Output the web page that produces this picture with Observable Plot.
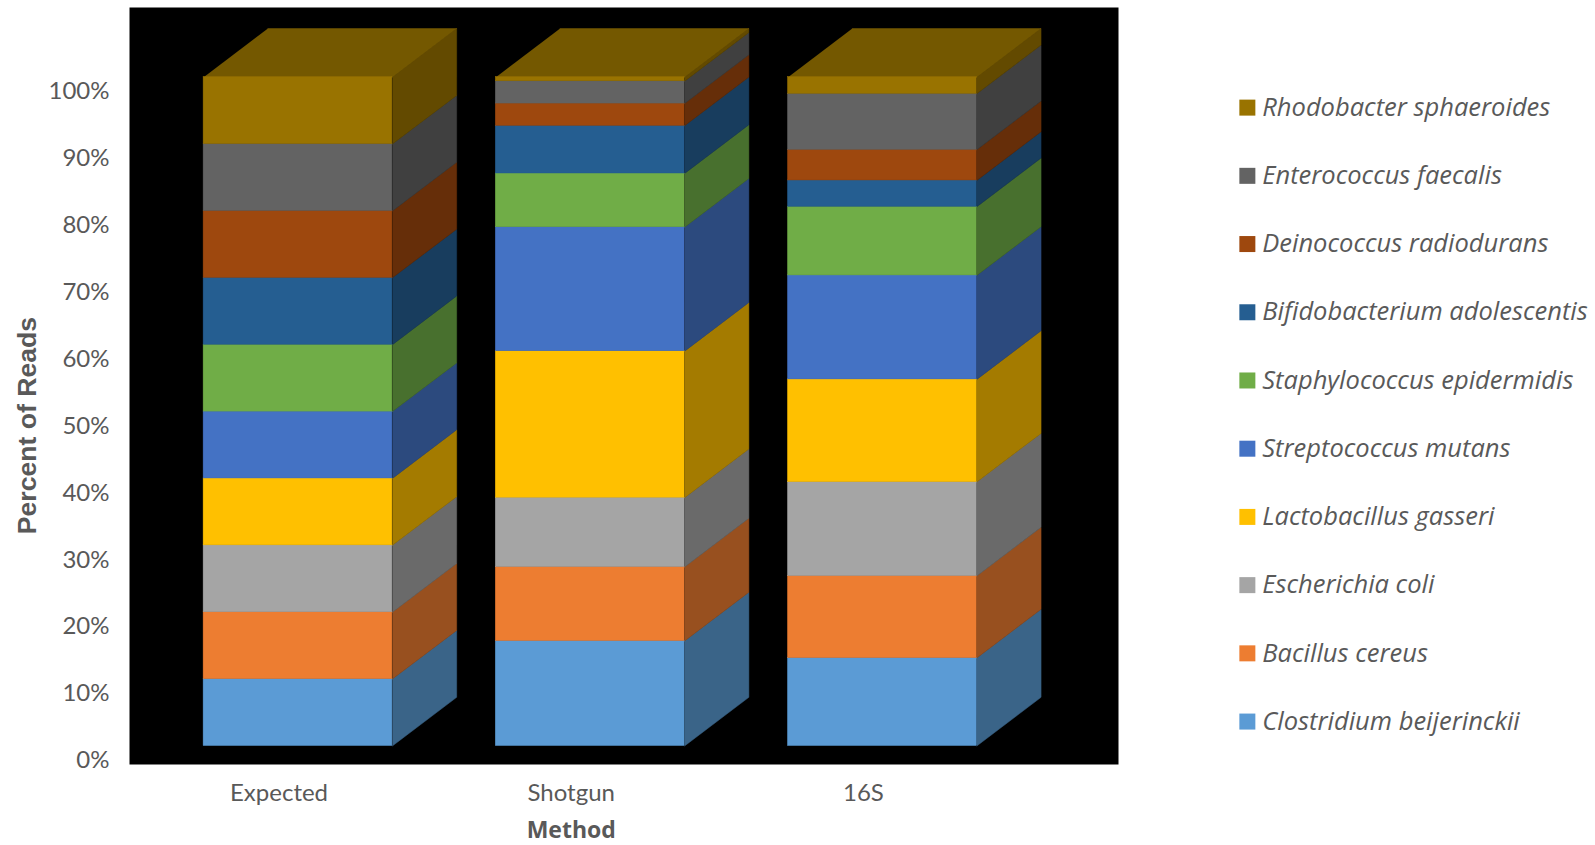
<!DOCTYPE html>
<html>
<head>
<meta charset="utf-8">
<title>Percent of Reads by Method</title>
<style>
  html, body { margin: 0; padding: 0; background: #fff; }
  svg { display: block; }
</style>
<script src="https://cdn.jsdelivr.net/npm/d3@7"></script>
<script src="https://cdn.jsdelivr.net/npm/@observablehq/plot@0.6"></script>
</head>
<body>
<div id="chart"></div>
<script>
// Community members, bottom of the stack first
const species = [
  "Clostridium beijerinckii", "Bacillus cereus", "Escherichia coli",
  "Lactobacillus gasseri", "Streptococcus mutans", "Staphylococcus epidermidis",
  "Bifidobacterium adolescentis", "Deinococcus radiodurans",
  "Enterococcus faecalis", "Rhodobacter sphaeroides"
];
const methods = ["Expected", "Shotgun", "16S"];

// Percent of reads per species for each method
const expected = [10, 10, 10, 10, 10, 10, 10, 10, 10, 10];
const shotgun = [15.7, 11.06, 10.37, 21.9, 18.54, 8.03, 7.13, 3.33, 3.33, 0.61];
const sixteenS = [13.15, 12.26, 14.05, 15.35, 15.55, 10.27, 3.93, 4.59, 8.37, 2.48];
const percentages = [expected, shotgun, sixteenS];

// Lit front faces and shaded side faces
const frontColors = ["#5b9bd5", "#ed7d31", "#a5a5a5", "#ffc000", "#4472c4", "#70ad47", "#255e91", "#9e480e", "#636363", "#997300"];
const sideColors = ["#3a6488", "#98501f", "#6a6a6a", "#a47b00", "#2c4a7e", "#48702e", "#183d5e", "#662e09", "#404040", "#634a00"];
const topColor = "#745800";

// Bar geometry in scale units: category spacing is 1, percent on y
const halfWidth = 0.323;
const depthX = 0.22;
const depthY = 7.28;

// Stack each method into front rectangles and side polygons
const fronts = [];
const faces = [];
percentages.forEach((values, m) => {
  let base = 0;
  const left = m - halfWidth;
  const right = m + halfWidth;
  values.forEach((value, s) => {
    const top = base + value;
    fronts.push({x1: left, x2: right, y1: base, y2: top, fill: frontColors[s]});
    const id = `side-${m}-${s}`;
    [[right, base], [right + depthX, base + depthY], [right + depthX, top + depthY], [right, top]]
      .forEach(([x, y]) => faces.push({id, x, y, fill: sideColors[s]}));
    base = top;
  });
  const id = `top-${m}`;
  [[left, base], [right, base], [right + depthX, base + depthY], [left + depthX, base + depthY]]
    .forEach(([x, y]) => faces.push({id, x, y, fill: topColor}));
});

// Legend runs top-down from the last species to the first
const legendEntries = species.map((name, s) => ({name, fill: frontColors[s], slot: species.length - 1 - s}));
const legendY = (d) => 95.45 - d.slot * 10.2;

const textColor = "#595959";

const chart = Plot.plot({
  width: 1595,
  height: 845,
  marginLeft: 129,
  marginRight: 477,
  marginTop: 7,
  marginBottom: 81,
  x: {domain: [-0.5767, 2.808]},
  y: {domain: [-2.77, 110.42]},
  color: {type: "identity"},
  style: {fontFamily: "Lato, 'Open Sans', sans-serif", background: "#fff"},
  marks: [
    Plot.frame({fill: "#000", stroke: "none"}),
    // A hairline in each face's own colour closes the seams between neighbours
    Plot.line(faces, {x: "x", y: "y", z: "id", fill: "fill", stroke: "fill", strokeWidth: 0.5}),
    Plot.rect(fronts, {x1: "x1", x2: "x2", y1: "y1", y2: "y2", fill: "fill", stroke: "fill", strokeWidth: 0.5}),
    Plot.axisY({
      ticks: d3.range(0, 101, 10),
      tickFormat: (d) => `${d}%`,
      tickSize: 0,
      tickPadding: 20,
      dy: 14.5,
      fontSize: 24,
      fill: textColor,
      label: null
    }),
    Plot.axisX({
      ticks: [0, 1, 2],
      tickFormat: (i) => methods[i],
      tickSize: 0,
      tickPadding: 19,
      dx: -19,
      fontSize: 24,
      fill: textColor,
      label: null
    }),
    Plot.text(["Method"], {x: 0.935, y: -12.6, text: (d) => d, fontFamily: "'Open Sans'", fontSize: 23, fontWeight: "bold", fill: textColor}),
    Plot.text(["Percent of Reads"], {x: -0.926, y: 47.9, text: (d) => d, rotate: -90, fontFamily: "'Liberation Sans'", fontSize: 26.6, fontWeight: "bold", fill: textColor}),
    Plot.dot(legendEntries, {x: 3.249, y: legendY, symbol: "square", r: 9.03, fill: "fill", stroke: "none"}),
    Plot.text(legendEntries, {x: 3.3, y: legendY, text: "name", textAnchor: "start", fontFamily: "'Open Sans'", fontStyle: "italic", fontSize: 25.5, fill: textColor})
  ]
});

document.getElementById("chart").append(chart);
</script>
</body>
</html>
